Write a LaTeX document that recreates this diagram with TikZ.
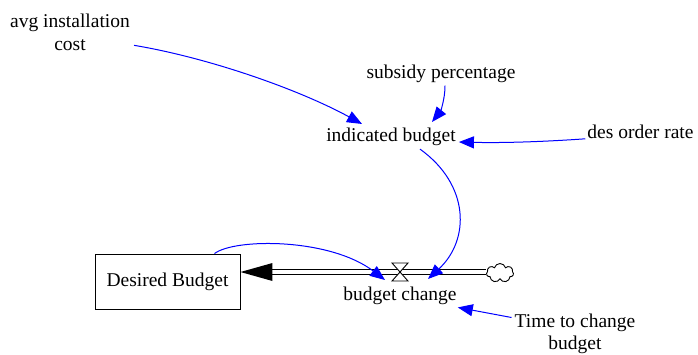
\documentclass[tikz,border=0pt]{standalone}
\usepackage{fontspec}
\setmainfont{Liberation Serif}
\usetikzlibrary{arrows.meta,calc,shapes.symbols}
\begin{document}
\begin{tikzpicture}[x=1pt,y=-1pt,
  lbl/.style={inner sep=0pt, font=\fontsize{19.5}{23.5}\selectfont, align=center},
  stock/.style={draw=black, line width=0.9pt, minimum width=145pt, minimum height=55pt,
    inner sep=0pt, font=\fontsize{19.5}{23.5}\selectfont},
  link/.style={draw=blue, line width=1pt, -{Triangle[length=15pt,width=12pt]}},
  pipe/.style={draw=black, line width=1pt, double=white, double distance=4pt},
  valveshape/.style={draw=black, line width=0.9pt, fill=white},
  source/.style={cloud, cloud puffs=7, cloud ignores aspect, draw=black, line width=0.9pt,
    fill=white, minimum width=27pt, minimum height=19pt, inner sep=0pt}]
\useasboundingbox (0,0) rectangle (698,354);

% variables
\node[lbl, anchor=north] (avg) at (70,13.7) {avg installation\\cost};
\node[lbl, anchor=base] (sub) at (441,78.3) {subsidy percentage};
\node[lbl, anchor=base] (ib) at (391,141.7) {indicated budget};
\node[lbl, anchor=base] (dor) at (640.5,138.3) {des order rate};
\node[lbl, anchor=base] (bc) at (400,300) {budget change};
\node[lbl, anchor=north, font=\fontsize{19.5}{22}\selectfont] (ttc) at (575,313.5) {Time to change\\budget};

% stock, flow pipe, valve and source cloud
\node[stock] (db) at (167.5,281.5) {Desired Budget};
\coordinate (valve) at (400,272);
\node[source] (cl) at (500,273) {};
\coordinate (pipeend) at (db.east |- valve);
\draw[pipe] (cl.west |- valve) -- ($(pipeend)+(30,0)$);
\fill[black] (pipeend) -- ++(32,-9) -- ++(0,18) -- cycle;
\draw[valveshape] ($(valve)+(-8,-9)$) -- ($(valve)+(8,-9)$) -- (valve) -- cycle;
\draw[valveshape] ($(valve)+(-8,9)$) -- ($(valve)+(8,9)$) -- (valve) -- cycle;

% causal links
\draw[link] ($(avg.south east)+(4,-6)$) .. controls (210,58) and (300,90) .. ($(ib.north)+(-29,-4)$);
\draw[link] ($(sub.south)+(4,3)$) .. controls (445,100) and (440,112) .. ($(ib.north)+(41,-6)$);
\draw[link] ($(dor.base west)+(-2,0.5)$) .. controls (540,142) and (500,143) .. ($(ib.base east)+(3,0.3)$);
\draw[link] ($(ib.south)+(29,3)$) .. controls (470,185) and (470,240) .. ($(valve)+(28,7)$);
\draw[link] ($(db.north)+(47,0)$) .. controls (235,238) and (330,238) .. ($(valve)+(-15,8)$);
\draw[link] ($(ttc.north west)+(-3,4)$) -- ($(bc.south east)+(1,3)$);
\end{tikzpicture}
\end{document}
